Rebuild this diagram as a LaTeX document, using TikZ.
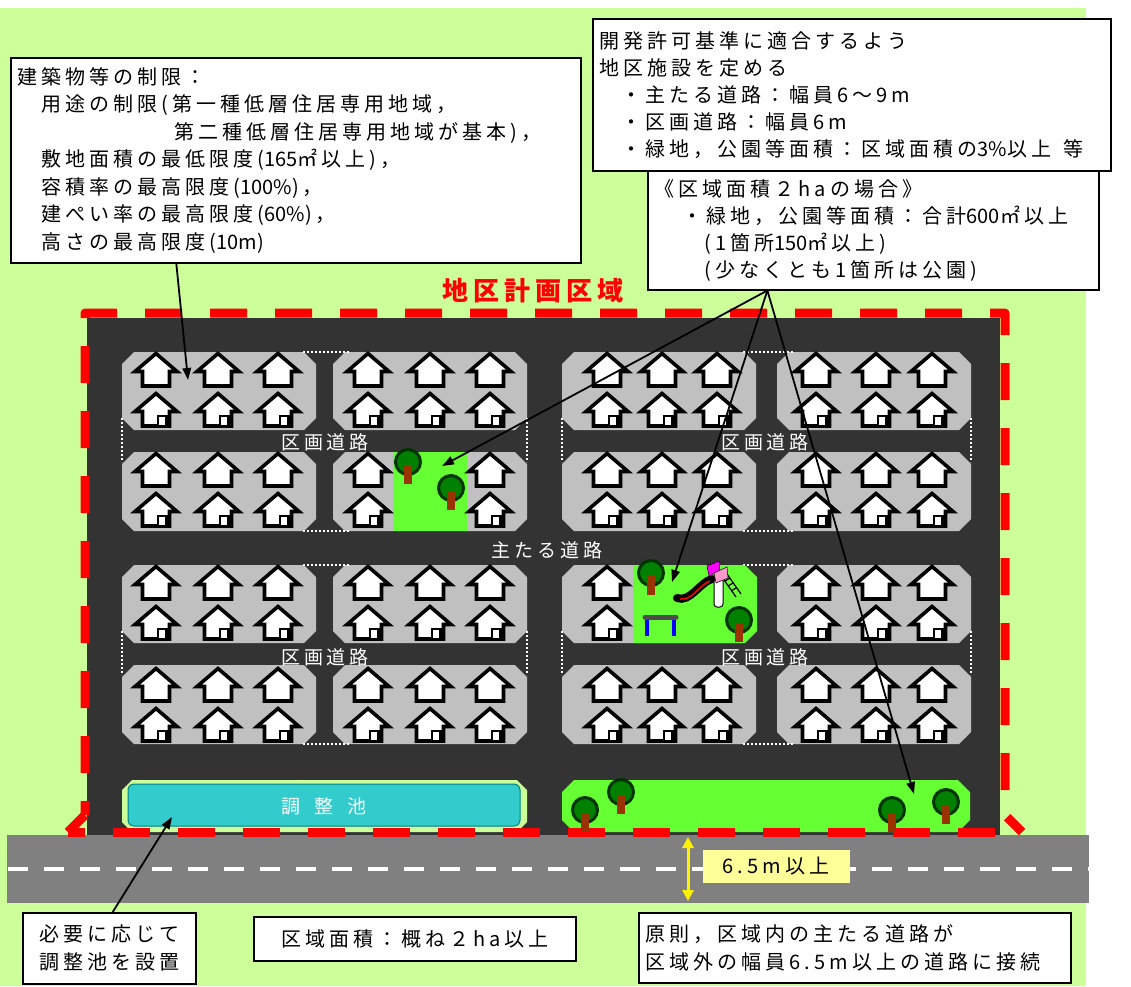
\documentclass[tikz,border=0pt]{standalone}
\usepackage{fontspec}
\newfontfamily\jp[LetterSpace=20]{Noto Sans CJK JP}
\newfontfamily\jpt{Noto Sans CJK JP}
\usetikzlibrary{arrows.meta, calc}

% chamfered lot outline: x1, y1, x2, y2, cut
\newcommand\lotshape[5]{(#1+#5,#2) -- (#3-#5,#2) -- (#3,#2+#5) -- (#3,#4-#5) -- (#3-#5,#4) -- (#1+#5,#4) -- (#1,#4-#5) -- (#1,#2+#5) -- cycle}
% figures set without the extra tracking
\newcommand\tightnum[1]{{\jpt #1}}

\tikzset{
  infobox/.style = {draw, fill=white, line width=1.5pt, anchor=north west, align=left,
                    inner xsep=7pt, inner ysep=0pt, font=\jp\fontsize{20}{27}\selectfont},
  roadname/.style = {text=white, font=\jp\fontsize{19}{19}\selectfont},
  pointer/.style = {-{Triangle[length=12pt,width=8.5pt]}, line width=1.8pt},
  markline/.style = {white, line width=2pt, dash pattern=on 2pt off 2pt},
  boundary/.style = {red, line width=9pt, dash pattern=on 37pt off 28pt, line join=round},
  pics/home/.style = {code={
    \filldraw[fill=white, draw=black, line width=3.6pt, line join=miter]
      (0,1.5) -- (21,19.5) -- (13.5,19.5) -- (13.5,34) -- (-13.5,34) -- (-13.5,19.5) -- (-21,19.5) -- cycle;
  }},
  pics/home door/.style = {code={
    \pic {home};
    \filldraw[fill=white, draw=black, line width=2.2pt] (2,24) rectangle (10.5,34);
  }},
  pics/tree/.style = {code={
    \filldraw[fill=leaf, draw=leafdark, line width=3pt] (0,0) circle (12.5pt);
    \fill[trunk] (-4,3) rectangle (4,22);
  }}
}

\begin{document}
\begin{tikzpicture}[x=1pt, y=-1pt]
  \definecolor{meadow}{HTML}{CCFF99}
  \definecolor{asphalt}{HTML}{333333}
  \definecolor{lotgray}{HTML}{C0C0C0}
  \definecolor{parkgreen}{HTML}{66FF33}
  \definecolor{roadgray}{HTML}{808080}
  \definecolor{pondblue}{HTML}{33CCCC}
  \definecolor{pondedge}{HTML}{008080}
  \definecolor{leaf}{HTML}{008000}
  \definecolor{leafdark}{HTML}{003300}
  \definecolor{trunk}{HTML}{993300}
  \definecolor{notefill}{HTML}{FFFF99}
  \definecolor{slidetop}{HTML}{FF00FF}
  \definecolor{slideside}{HTML}{FF99CC}

  \useasboundingbox (0,0) rectangle (1131,986);
  \fill[white] (0,0) rectangle (1131,986);
  \fill[meadow] (0,8) rectangle (1086,986);

  % roads
  \fill[asphalt] (87,318) rectangle (1000,835);
  \fill[roadgray] (7,835) rectangle (1089,903);
  \draw[white, line width=4pt, dash pattern=on 20pt off 16pt] (8,869) -- (1089,869);

  % four lot groups, each split by a lane cross
  \foreach \lx/\rx/\ty in {122/333/352, 562/777/352, 122/333/565, 562/777/565} {
    \fill[lotgray] \lotshape{\lx}{\ty}{\lx+194}{\ty+78}{12};
    \fill[lotgray] \lotshape{\rx}{\ty}{\rx+194}{\ty+78}{12};
    \fill[lotgray] \lotshape{\lx}{\ty+100}{\lx+194}{\ty+179}{12};
    \fill[lotgray] \lotshape{\rx}{\ty+100}{\rx+194}{\ty+179}{12};
    \draw[markline] (\lx+181,\ty) -- (\rx+17,\ty)
                    (\lx+181,\ty+179) -- (\rx+17,\ty+179)
                    (\lx,\ty+66) -- (\lx,\ty+110)
                    (\rx+194,\ty+66) -- (\rx+194,\ty+110);
  }

  % parks and pond
  \fill[parkgreen] (393,452) rectangle (467,531);
  \fill[parkgreen] (633,565) -- (745,565) -- (757,577) -- (757,631) -- (745,643) -- (633,643) -- cycle;
  \fill[parkgreen] \lotshape{562}{780}{970}{832}{12};
  \fill[meadow] \lotshape{122}{780}{527}{832}{10};
  \filldraw[fill=pondblue, draw=pondedge, line width=1pt, rounded corners=6pt] (128,784) rectangle (520,826);
  \node[roadname] (pond) at (324,806) {調\hspace{14pt}整\hspace{14pt}池};

  % district boundary
  \draw[boundary, dash phase=23pt] (85,815) -- (85,313) -- (1005,313) -- (1005,815) -- (1022,832);
  \draw[boundary, dash phase=20pt] (68,832) -- (1022,832);
  \draw[boundary, dash pattern=] (85,815) -- (68,832);

  % houses
  \foreach \hy/\hxs in {352/{156,218,278,368,430,490,607,662,717,816,876,932},
                        452/{156,218,278,368,490,607,662,717,816,876,932},
                        565/{156,218,278,368,430,490,607,816,876,932},
                        667/{156,218,278,368,430,490,607,662,717,816,876,932}} {
    \foreach \hx in \hxs {
      \pic at (\hx,\hy) {home};
      \pic at (\hx,\hy+40) {home door};
    }
  }

  % trees
  \foreach \tx/\ty in {408/462, 451/488, 651/573, 739/620, 585/810, 621/792, 892/810, 946/802}
    \pic at (\tx,\ty) {tree};

  % playground: bar and slide
  \draw[blue, line width=3.5pt] (647,619) -- (647,636) (674,619) -- (674,636);
  \draw[black!70, line width=5pt, line cap=round] (645,617) -- (676,617);
  \draw[line width=8pt, line cap=round] (677,598) .. controls (690,603) and (700,582) .. (712,579);
  \draw[red, line width=1.5pt] (680,599) .. controls (692,601) and (700,584) .. (710,581);
  \draw[line width=1.2pt] (722,577) -- (736,597) (727,574) -- (741,594)
    (725,581) -- (730,578) (728,586) -- (733,583) (731,591) -- (736,588);
  \filldraw[fill=white, draw=black, line width=1pt, rounded corners=3pt] (714,578) rectangle (723,607);
  \filldraw[fill=slidetop, draw=black, line width=.5pt] (707,566) -- (719,561) -- (720,571) -- (709,576) -- cycle;
  \filldraw[fill=slideside, draw=black, line width=.5pt] (714,573) -- (727,567) -- (728,578) -- (716,583) -- cycle;

  % road names
  \node[roadname] (laneA) at (325,442) {区画道路};
  \node[roadname] (laneB) at (765,442) {区画道路};
  \node[roadname] (laneC) at (325,657) {区画道路};
  \node[roadname] (laneD) at (765,657) {区画道路};
  \node[roadname] (mainroad) at (547,550) {主たる道路};

  \node[text=red, font=\jp\bfseries\fontsize{26}{26}\selectfont] (district) at (533,291) {地区計画区域};

  % notes
  \node[infobox, text width=556pt, minimum height=205pt, font=\jp\fontsize{20}{27.5}\selectfont] (limits) at (10,57)
    {建築物等の制限：\\
     \hspace*{24pt}用途の制限(第一種低層住居専用地域，\\
     \hspace*{157pt}第二種低層住居専用地域が基本)，\\
     \hspace*{24pt}敷地面積の最低限度(\tightnum{165}㎡以上)，\\
     \hspace*{24pt}容積率の最高限度(\tightnum{100\%})，\\
     \hspace*{24pt}建ぺい率の最高限度(\tightnum{60\%})，\\
     \hspace*{24pt}高さの最高限度(\tightnum{10m})};
  \node[infobox, text width=504pt, minimum height=152pt] (standard) at (592,18)
    {開発許可基準に適合するよう\\
     地区施設を定める\\
     \hspace*{22pt}・主たる道路：幅員6～9m\\
     \hspace*{22pt}・区画道路：幅員6m\\
     \hspace*{22pt}・緑地，公園等面積：区域面積の\tightnum{3\%}以上\hspace{12pt}等};
  \node[infobox, text width=437pt, minimum height=119pt] (greenrule) at (647,170)
    {《区域面積２haの場合》\\
     \hspace*{28pt}・緑地，公園等面積：合計\tightnum{600}㎡以上\\
     \hspace*{50pt}(1箇所\tightnum{150}㎡以上)\\
     \hspace*{50pt}(少なくとも1箇所は公園)};
  \node[infobox, align=center, text width=159pt, minimum height=71pt, font=\jp\fontsize{20}{28}\selectfont] (pondnote) at (22,912)
    {必要に応じて\\調整池を設置};
  \node[infobox, align=center, text width=308pt, minimum height=44pt] (areanote) at (253,916)
    {区域面積：概ね２ha以上};
  \node[infobox, text width=418pt, minimum height=70pt, font=\jp\fontsize{20}{28}\selectfont] (accessnote) at (638,912)
    {原則，区域内の主たる道路が\\区域外の幅員6.5m以上の道路に接続};

  % leaders
  \coordinate (lotA) at (188,380);
  \coordinate (parkA) at (442,466);
  \coordinate (parkB) at (672,582);
  \coordinate (parkC) at (914,794);
  \coordinate (pondpoint) at (172,817);
  \coordinate (greenfoot) at ($(greenrule.south west)!0.266!(greenrule.south east)$);

  \draw[pointer] ($(limits.south west)!0.291!(limits.south east)$) -- (lotA);
  \foreach \target in {parkA, parkB, parkC}
    \draw[pointer] (greenfoot) -- (\target);
  \draw[pointer] ($(pondnote.north west)!0.52!(pondnote.north east)$) -- (pondpoint);

  % road width
  \coordinate (roadtop) at (688,837);
  \coordinate (roadfoot) at (688,901);
  \draw[yellow, line width=3pt, {Triangle[length=11pt,width=11pt]}-{Triangle[length=11pt,width=11pt]}] (roadtop) -- (roadfoot);
  \node[fill=notefill, minimum width=147pt, minimum height=33pt, inner sep=0pt,
        font=\jp\fontsize{20}{20}\selectfont] (widthnote) at (776,866) {6.5m以上};
\end{tikzpicture}
\end{document}
